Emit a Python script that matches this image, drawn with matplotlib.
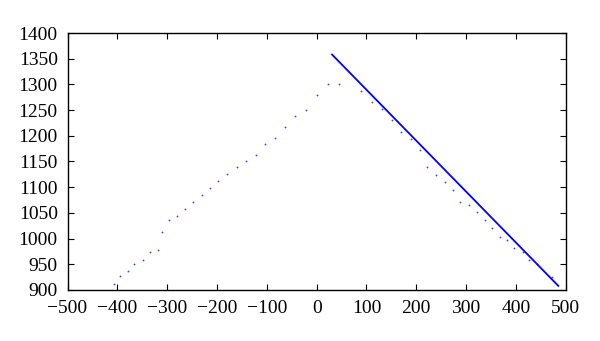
import numpy as np
import matplotlib
matplotlib.use("Agg")
import matplotlib.pyplot as plt

x_pts = [-406, -394, -379, -366, -349, -335, -318, -310, -297, -280,
         -264, -248, -231, -214, -197, -179, -160, -142, -122, -104,
         -84, -63, -43, -22, 1, 23, 45,
         90, 111, 132, 152, 170, 190, 207, 222, 239, 257,
         274, 288, 306, 322, 337, 351, 367, 383, 397, 415,
         427, 443, 472]
y_pts = [912, 928, 936, 951, 958, 973, 978, 1013, 1037, 1043,
         1057, 1071, 1085, 1099, 1113, 1126, 1139, 1151, 1163, 1185,
         1196, 1218, 1239, 1250, 1280, 1300, 1300,
         1287, 1265, 1253, 1231, 1208, 1194, 1172, 1139, 1124, 1111,
         1095, 1071, 1066, 1051, 1036, 1020, 1004, 998, 982, 974,
         958, 951, 925]

# fitted line endpoints
fit_x = [31, 485]
fit_y = [1358, 908]

x_ticks = list(range(-500, 501, 100))
y_ticks = list(range(900, 1401, 50))

plt.rcParams['font.family'] = ['Liberation Serif', 'DejaVu Serif']

fig = plt.figure(figsize=(6, 3.41), dpi=100)
ax = fig.add_axes([0.1125, 0.1496, 0.8305, 0.7536])

ax.plot(x_pts, y_pts, linestyle="none", marker="o", markersize=1.3,
        markeredgewidth=0, color="#4040ff")
ax.plot(fit_x, fit_y, color="#0000ff", linewidth=1.3)

ax.set_xlim(-500, 500)
ax.set_ylim(900, 1400)
ax.set_xticks(x_ticks)
ax.set_yticks(y_ticks)
ax.tick_params(direction="in", length=4, width=0.8, top=True, right=True,
               labelsize=14, colors="black")
ax.tick_params(axis="y", pad=7)
ax.tick_params(axis="x", pad=7)
for s in ax.spines.values():
    s.set_linewidth(1.0)

fig.savefig("out.png", dpi=100)
